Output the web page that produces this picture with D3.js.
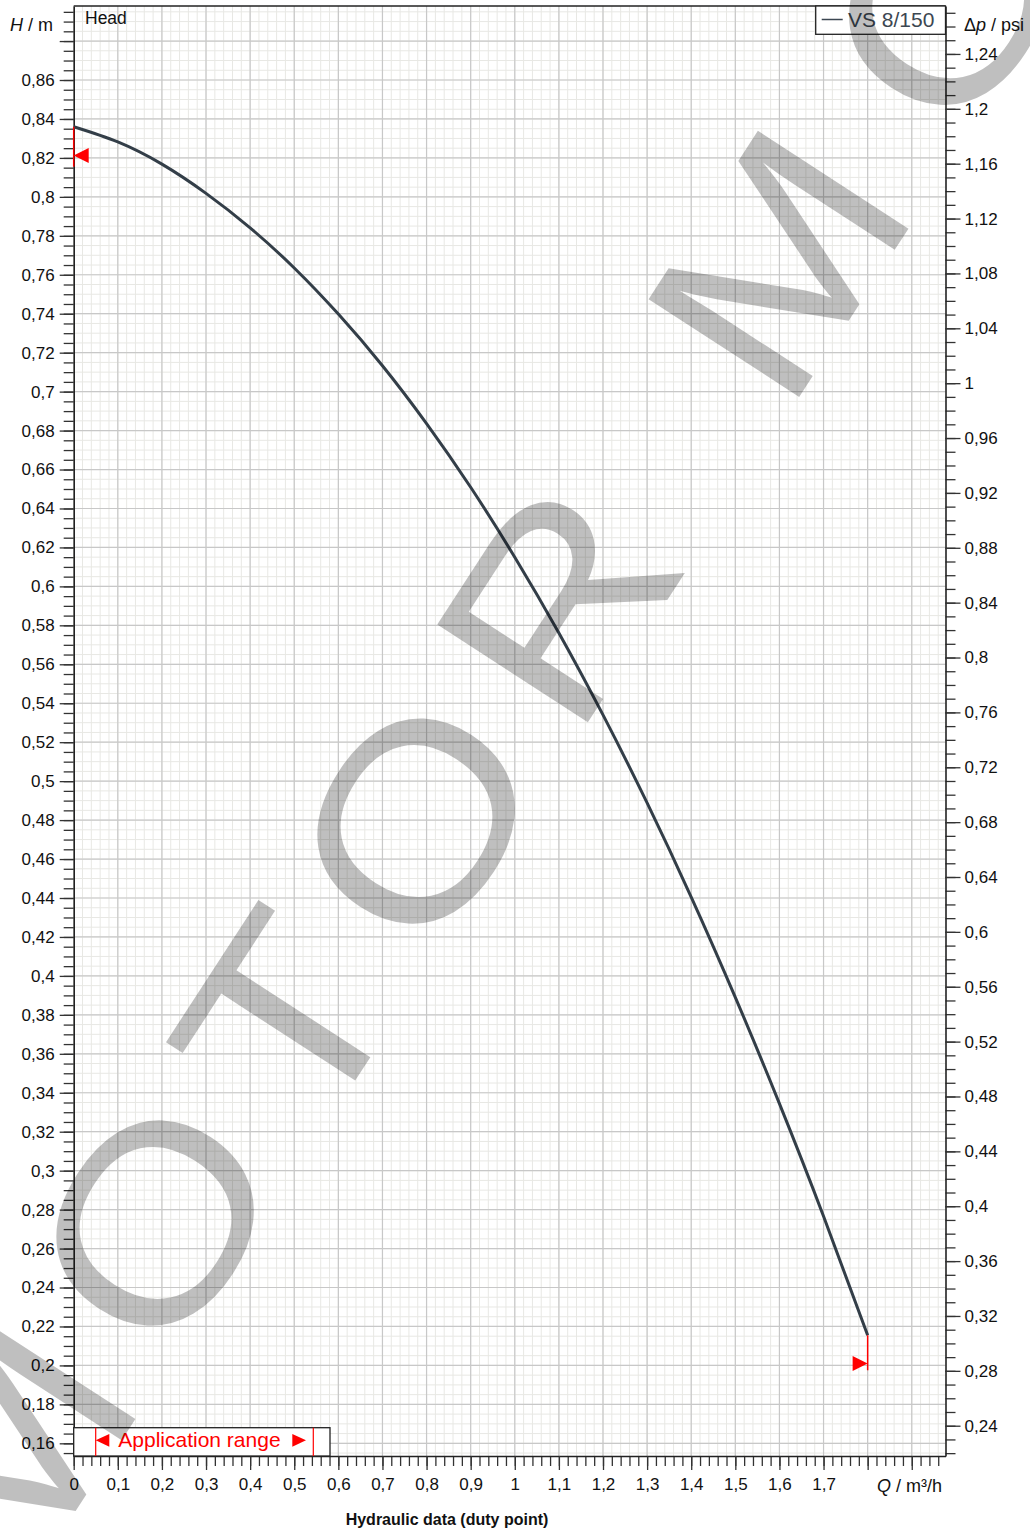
<!DOCTYPE html>
<html>
<head>
<meta charset="utf-8">
<script src="https://cdn.jsdelivr.net/npm/d3@7"></script>
<style>
  body { margin: 0; background: #fff; }
  svg { display: block; font-family: "Liberation Sans", Arial, sans-serif; }
</style>
</head>
<body>
<div id="chart"></div>
<script>
// 流量 Q (m³/h) 與揚程 H (m)
const flowQ = [0, 0.1, 0.2, 0.3, 0.4, 0.5, 0.6, 0.7, 0.8, 0.9, 1.0, 1.1, 1.2, 1.3, 1.4, 1.5, 1.6, 1.7, 1.8];
const headH = [0.836, 0.8282, 0.8168, 0.8018, 0.7841, 0.7635, 0.7398, 0.7133, 0.6836, 0.6509, 0.615, 0.5761, 0.534, 0.4888, 0.4405, 0.389, 0.3344, 0.2766, 0.2155];

// 刻度標籤
const qTickLabels = [0, 0.1, 0.2, 0.3, 0.4, 0.5, 0.6, 0.7, 0.8, 0.9, 1, 1.1, 1.2, 1.3, 1.4, 1.5, 1.6, 1.7];
const hTickLabels = [0.16, 0.18, 0.2, 0.22, 0.24, 0.26, 0.28, 0.3, 0.32, 0.34, 0.36, 0.38, 0.4, 0.42, 0.44, 0.46, 0.48,
  0.5, 0.52, 0.54, 0.56, 0.58, 0.6, 0.62, 0.64, 0.66, 0.68, 0.7, 0.72, 0.74, 0.76, 0.78, 0.8, 0.82, 0.84, 0.86];
const psiTickLabels = [0.24, 0.28, 0.32, 0.36, 0.4, 0.44, 0.48, 0.52, 0.56, 0.6, 0.64, 0.68, 0.72, 0.76, 0.8, 0.84,
  0.88, 0.92, 0.96, 1, 1.04, 1.08, 1.12, 1.16, 1.2, 1.24];

// 應用範圍標記 (Q, 三角形位置, 紅線下端)
const rangeMarkers = [
  { q: 0, h: 0.8213, hEnd: 0.8155, dir: -1 },
  { q: 1.8, h: 0.201, hEnd: 0.1975, dir: 1 }
];
const seriesName = "VS 8/150";

const width = 1030;
const height = 1530;
const pLeft = 73.7, pRight = 945.5, pTop = 6, pBottom = 1456;
const psiPerM = 1.41977;

const svg = d3.select("#chart")
  .append("svg")
  .attr("width", width)
  .attr("height", height);

const x = d3.scaleLinear().domain([0, 1.9765]).range([pLeft, pRight]);
const y = d3.scaleLinear().domain([0.15349, 0.898]).range([pBottom, pTop]);
const yp = d3.scaleLinear().domain([0.15349 * psiPerM, 0.898 * psiPerM]).range([pBottom, pTop]);

const fmt = d3.formatLocale({ decimal: ",", thousands: ".", grouping: [3], currency: ["", ""] }).format(".2~f");
const near = (arr, d) => arr.some(v => Math.abs(v - d) < 1e-6);

// 網格
const grid = svg.append("g");
const qMinor = d3.range(0, 197, 2).map(v => v / 100);
const qMajor = d3.range(0, 20).map(v => v / 10);
const hMinor = d3.range(155, 896, 5).map(v => v / 1000);
const hMajor = d3.range(16, 89, 2).map(v => v / 100);

grid.selectAll(".vmin").data(qMinor).enter().append("line")
  .attr("x1", d => x(d)).attr("x2", d => x(d)).attr("y1", pTop).attr("y2", pBottom)
  .attr("stroke", "#e8e8e4").attr("stroke-width", 1);
grid.selectAll(".hmin").data(hMinor).enter().append("line")
  .attr("x1", pLeft).attr("x2", pRight).attr("y1", d => y(d)).attr("y2", d => y(d))
  .attr("stroke", "#e8e8e4").attr("stroke-width", 1);
grid.selectAll(".vmaj").data(qMajor.filter(d => d > 0)).enter().append("line")
  .attr("x1", d => x(d)).attr("x2", d => x(d)).attr("y1", pTop).attr("y2", pBottom)
  .attr("stroke", "#c8c8c8").attr("stroke-width", 1.2);
grid.selectAll(".hmaj").data(hMajor).enter().append("line")
  .attr("x1", pLeft).attr("x2", pRight).attr("y1", d => y(d)).attr("y2", d => y(d))
  .attr("stroke", "#c8c8c8").attr("stroke-width", 1.2);

// 座標軸
function styleAxis(g, keepDomain) {
  g.selectAll(".tick line").attr("stroke", "#333").attr("stroke-width", 1.3);
  g.selectAll(".tick text").attr("font-size", 17).attr("fill", "#111")
    .attr("font-family", "Liberation Sans, Arial, sans-serif");
  if (keepDomain) g.select(".domain").attr("stroke", "#222").attr("stroke-width", 1.6);
  else g.select(".domain").remove();
}

svg.append("g").attr("transform", `translate(${pLeft},0)`)
  .call(d3.axisLeft(y).tickValues(hMinor).tickSize(10).tickSizeOuter(0).tickFormat(""))
  .call(g => styleAxis(g, false));
svg.append("g").attr("transform", `translate(${pLeft},0)`)
  .call(d3.axisLeft(y).tickValues(hMajor).tickSize(14).tickSizeOuter(0).tickPadding(5)
    .tickFormat(d => near(hTickLabels, d) ? fmt(d) : ""))
  .call(g => styleAxis(g, true));

svg.append("g").attr("transform", `translate(0,${pBottom})`)
  .call(d3.axisBottom(x).tickValues(qMinor).tickSize(10).tickSizeOuter(0).tickFormat(""))
  .call(g => styleAxis(g, false));
svg.append("g").attr("transform", `translate(0,${pBottom})`)
  .call(d3.axisBottom(x).tickValues(qMajor).tickSize(14).tickSizeOuter(0).tickPadding(8)
    .tickFormat(d => near(qTickLabels, d) ? fmt(d) : ""))
  .call(g => styleAxis(g, true));

const psiMinor = d3.range(22, 128).map(v => v / 100).filter(d => yp(d) >= pTop && yp(d) <= pBottom);
svg.append("g").attr("transform", `translate(${pRight},0)`)
  .call(d3.axisRight(yp).tickValues(psiMinor).tickSize(10).tickSizeOuter(0).tickFormat(""))
  .call(g => styleAxis(g, false));
svg.append("g").attr("transform", `translate(${pRight},0)`)
  .call(d3.axisRight(yp).tickValues(psiTickLabels).tickSize(15).tickSizeOuter(0).tickPadding(4)
    .tickFormat(fmt))
  .call(g => styleAxis(g, true));

// 上邊框
svg.append("line")
  .attr("x1", pLeft).attr("x2", pRight).attr("y1", pTop).attr("y2", pTop)
  .attr("stroke", "#222").attr("stroke-width", 1.6);

// 曲線
const line = d3.line()
  .x((d, i) => x(flowQ[i]))
  .y(d => y(d))
  .curve(d3.curveNatural);

svg.append("path")
  .datum(headH)
  .attr("d", line)
  .attr("fill", "none")
  .attr("stroke", "#333e48")
  .attr("stroke-width", 3);

// 應用範圍標記
rangeMarkers.forEach((m, i) => {
  const h0 = headH[i === 0 ? 0 : headH.length - 1];
  const px = x(m.q);
  svg.append("line")
    .attr("x1", px).attr("x2", px).attr("y1", y(h0)).attr("y2", y(m.hEnd))
    .attr("stroke", "#ff0000").attr("stroke-width", 1.5);
  const ty = y(m.h);
  const back = px - m.dir * 15;
  svg.append("path")
    .attr("d", `M${px},${ty}L${back},${ty - 7.5}L${back},${ty + 7.5}Z`)
    .attr("fill", "#ff0000");
});

// 文字標籤
const t1 = svg.append("text").attr("x", 10).attr("y", 31).attr("font-size", 18).attr("fill", "#111");
t1.append("tspan").attr("font-style", "italic").text("H");
t1.append("tspan").text(" / m");

svg.append("text").attr("x", 85).attr("y", 24).attr("font-size", 17.5).attr("fill", "#111").text("Head");

const t2 = svg.append("text").attr("x", 964).attr("y", 31).attr("font-size", 18).attr("fill", "#111");
t2.append("tspan").text("Δ");
t2.append("tspan").attr("font-style", "italic").text("p");
t2.append("tspan").text(" / psi");

const t3 = svg.append("text").attr("x", 877).attr("y", 1491.5).attr("font-size", 18).attr("fill", "#111");
t3.append("tspan").attr("font-style", "italic").text("Q");
t3.append("tspan").text(" / m³/h");

svg.append("text")
  .attr("x", 447).attr("y", 1525)
  .attr("text-anchor", "middle")
  .attr("font-size", 16).attr("font-weight", "bold").attr("fill", "#111")
  .text("Hydraulic data (duty point)");

// 圖例
const lg = svg.append("g");
lg.append("rect").attr("x", 815.7).attr("y", pTop).attr("width", pRight - 815.7).attr("height", 28.3)
  .attr("fill", "#fff").attr("stroke", "#222").attr("stroke-width", 1.3);
lg.append("line").attr("x1", 821.7).attr("x2", 842.7).attr("y1", 19.5).attr("y2", 19.5)
  .attr("stroke", "#3c4752").attr("stroke-width", 1.5);
lg.append("text").attr("x", 848).attr("y", 27).attr("font-size", 21).attr("fill", "#3c4752").text(seriesName);

// Application range 方框
const ar = svg.append("g");
ar.append("rect").attr("x", pLeft).attr("y", 1427.7).attr("width", 330 - pLeft).attr("height", pBottom - 1427.7)
  .attr("fill", "#fff").attr("stroke", "#222").attr("stroke-width", 1.3);
ar.append("line").attr("x1", 95.7).attr("x2", 95.7).attr("y1", 1427.7).attr("y2", pBottom)
  .attr("stroke", "#ff0000").attr("stroke-width", 1.2);
ar.append("line").attr("x1", 313.3).attr("x2", 313.3).attr("y1", 1427.7).attr("y2", pBottom)
  .attr("stroke", "#ff0000").attr("stroke-width", 1.2);
ar.append("path").attr("d", "M95.7,1440.3L109.3,1434L109.3,1446.7Z").attr("fill", "#ff0000");
ar.append("path").attr("d", "M306,1440.3L292.3,1434L292.3,1446.7Z").attr("fill", "#ff0000");
ar.append("text").attr("x", 118.3).attr("y", 1447).attr("font-size", 21).attr("fill", "#ff0000").text("Application range");

// 浮水印
svg.append("text")
  .attr("transform", "translate(12.7,1608) rotate(-57) scale(1,0.87)")
  .attr("font-size", 300)
  .attr("dx", "0 34 34 34 35 44 44 70 34 34 34")
  .attr("fill", "#000")
  .attr("fill-opacity", 0.25)
  .attr("pointer-events", "none")
  .text("MOTOR MOTOR");
</script>
</body>
</html>
